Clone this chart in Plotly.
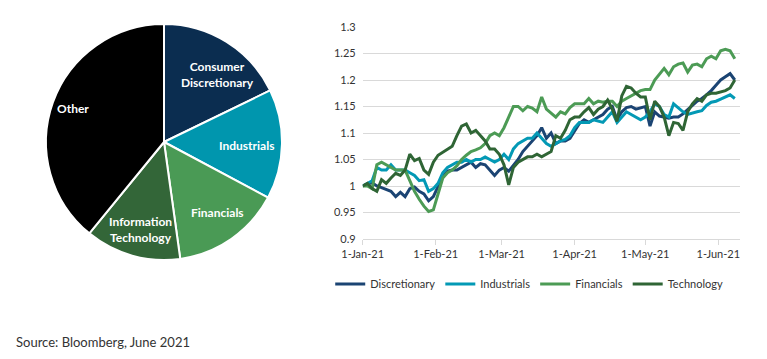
import plotly.graph_objects as go
import pandas as pd

# ---------------- Pie data ----------------
pie_labels = ["Consumer Discretionary", "Industrials", "Financials", "Information Technology", "Other"]
pie_text = ["Consumer<br>Discretionary", "Industrials", "Financials", "Information<br>Technology", "Other"]
pie_values = [17.8, 15.0, 15.0, 13.1, 39.1]
pie_colors = ["#0b2d50", "#0096ae", "#4a9a55", "#336638", "#000000"]

# ---------------- Line data (every 2 days from 1-Jan-21) ----------------
dates = pd.date_range("2021-01-01", periods=80, freq="2D")

discretionary = [
    1.000, 1.004, 1.006, 1.000, 0.997, 0.993, 0.990, 0.980, 0.988, 0.980,
    0.995, 0.998, 0.990, 0.985, 0.972, 0.980, 1.000, 1.018, 1.028, 1.030,
    1.030, 1.035, 1.040, 1.045, 1.035, 1.042, 1.040, 1.030, 1.020, 1.030,
    1.035, 1.028, 1.040, 1.050, 1.065, 1.075, 1.085, 1.095, 1.110, 1.090,
    1.100, 1.080, 1.085, 1.085, 1.090, 1.105, 1.118, 1.125, 1.120, 1.125,
    1.130, 1.135, 1.145, 1.150, 1.125, 1.140, 1.148, 1.150, 1.145, 1.148,
    1.150, 1.113, 1.140, 1.132, 1.130, 1.128, 1.130, 1.130, 1.136, 1.145,
    1.152, 1.160, 1.165, 1.172, 1.180, 1.190, 1.200, 1.206, 1.212, 1.200,
]
industrials = [
    1.000, 1.005, 1.010, 1.035, 1.030, 1.030, 1.040, 1.030, 1.030, 1.030,
    1.025, 1.020, 1.010, 1.012, 0.990, 0.995, 1.005, 1.025, 1.035, 1.040,
    1.045, 1.045, 1.050, 1.045, 1.050, 1.050, 1.055, 1.050, 1.045, 1.050,
    1.060, 1.050, 1.070, 1.080, 1.085, 1.090, 1.090, 1.100, 1.090, 1.080,
    1.075, 1.080, 1.085, 1.088, 1.095, 1.110, 1.120, 1.120, 1.120, 1.125,
    1.122, 1.120, 1.130, 1.140, 1.120, 1.130, 1.140, 1.135, 1.130, 1.125,
    1.130, 1.140, 1.155, 1.150, 1.135, 1.130, 1.155, 1.148, 1.140, 1.135,
    1.138, 1.140, 1.142, 1.152, 1.158, 1.160, 1.164, 1.168, 1.172, 1.165,
]
financials = [
    1.000, 1.000, 0.995, 1.040, 1.045, 1.040, 1.035, 1.030, 1.030, 1.030,
    1.010, 0.990, 0.975, 0.962, 0.952, 0.955, 0.985, 1.015, 1.025, 1.030,
    1.038, 1.050, 1.058, 1.065, 1.068, 1.072, 1.080, 1.095, 1.100, 1.095,
    1.110, 1.130, 1.150, 1.150, 1.142, 1.150, 1.147, 1.140, 1.168, 1.145,
    1.138, 1.130, 1.140, 1.136, 1.148, 1.155, 1.155, 1.155, 1.165, 1.155,
    1.160, 1.158, 1.160, 1.160, 1.150, 1.160, 1.165, 1.170, 1.175, 1.180,
    1.182, 1.182, 1.200, 1.210, 1.222, 1.210, 1.225, 1.230, 1.232, 1.215,
    1.228, 1.230, 1.225, 1.240, 1.245, 1.240, 1.255, 1.258, 1.255, 1.240,
]
technology = [
    1.000, 1.005, 0.995, 0.990, 1.012, 1.005, 1.015, 1.024, 1.020, 1.030,
    1.060, 1.048, 1.052, 1.030, 1.022, 1.045, 1.058, 1.064, 1.069, 1.075,
    1.095, 1.113, 1.117, 1.100, 1.105, 1.095, 1.085, 1.070, 1.070, 1.060,
    1.040, 1.002, 1.035, 1.045, 1.050, 1.055, 1.055, 1.060, 1.055, 1.060,
    1.065, 1.095, 1.090, 1.105, 1.125, 1.130, 1.130, 1.140, 1.148, 1.135,
    1.145, 1.150, 1.162, 1.145, 1.122, 1.170, 1.188, 1.185, 1.175, 1.168,
    1.168, 1.125, 1.160, 1.150, 1.130, 1.095, 1.120, 1.118, 1.105, 1.140,
    1.155, 1.165, 1.160, 1.172, 1.175, 1.175, 1.178, 1.180, 1.185, 1.200,
]
series_names = ["Discretionary", "Industrials", "Financials", "Technology"]
series_values = [discretionary, industrials, financials, technology]
series_colors = ["#1b4473", "#0399b5", "#4c9b55", "#2f6535"]

x_tickvals = ["2021-01-01", "2021-02-01", "2021-03-01", "2021-04-01", "2021-05-01", "2021-06-01"]
x_ticktext = ["1-Jan-21", "1-Feb-21", "1-Mar-21", "1-Apr-21", "1-May-21", "1-Jun-21"]
y_tickvals = [0.9, 0.95, 1.0, 1.05, 1.1, 1.15, 1.2, 1.25, 1.3]
y_ticktext = ["0.9", "0.95", "1", "1.05", "1.1", "1.15", "1.2", "1.25", "1.3"]

W, H = 767, 359
FONT = "Lato"

fig = go.Figure()

fig.add_trace(go.Pie(
    labels=pie_labels, values=pie_values, sort=False, direction="clockwise", rotation=0,
    marker=dict(colors=pie_colors, line=dict(color="white", width=2)),
    textinfo="none", hoverinfo="label+percent", showlegend=False,
    domain=dict(x=[46 / W, 282 / W], y=[1 - 260 / H, 1 - 24 / H]),
))

for name, vals, col in zip(series_names, series_values, series_colors):
    fig.add_trace(go.Scatter(
        x=dates, y=vals, name=name, mode="lines",
        line=dict(color=col, width=3),
        xaxis="x", yaxis="y",
    ))

label_pos = [(217, 74), (247, 145), (217, 212), (140, 229), (73, 108)]
for txt, (px, py) in zip(pie_text, label_pos):
    fig.add_annotation(
        x=px / W, y=1 - py / H, xref="paper", yref="paper", text="<b>" + txt + "</b>",
        showarrow=False, font=dict(family=FONT, size=12, color="white"),
        xanchor="center", yanchor="middle", align="center",
    )

fig.add_annotation(
    x=14 / W, y=1 - 342 / H, xref="paper", yref="paper", text="Source: Bloomberg, June 2021",
    showarrow=False, font=dict(family=FONT, size=13, color="#333333"),
    xanchor="left", yanchor="middle",
)

fig.update_layout(
    width=W, height=H, margin=dict(l=0, r=0, t=0, b=0, pad=0, autoexpand=False),
    paper_bgcolor="white", plot_bgcolor="white",
    font=dict(family=FONT, size=11, color="#333333"),
    xaxis=dict(
        domain=[362.7 / W, 740 / W], type="date",
        range=["2021-01-01", "2021-06-10 05:00"],
        tickvals=x_tickvals, ticktext=x_ticktext,
        showgrid=False, showline=True, linecolor="#d9d9d9", linewidth=1,
        ticks="outside", ticklen=5, tickcolor="#d9d9d9",
        tickfont=dict(family=FONT, size=11, color="#333333"),
        zeroline=False, automargin=False,
    ),
    yaxis=dict(
        domain=[1 - 239 / H, 1 - 27 / H], range=[0.9, 1.3],
        tickvals=y_tickvals, ticktext=y_ticktext,
        showgrid=True, gridcolor="#d9d9d9", gridwidth=1,
        zeroline=False, showline=False, ticks="", ticklabelstandoff=6,
        tickfont=dict(family=FONT, size=11, color="#333333"), automargin=False,
    ),
    legend=dict(
        orientation="h", x=0.69, xanchor="center", y=1 - 284 / H, yanchor="middle",
        font=dict(family=FONT, size=11, color="#333333"), itemwidth=30,
        bgcolor="rgba(0,0,0,0)",
    ),
)

fig.write_html(
    "out.html",
    config={"displayModeBar": False},
    post_script="document.body.style.margin='0px';document.body.style.overflow='hidden';",
)
